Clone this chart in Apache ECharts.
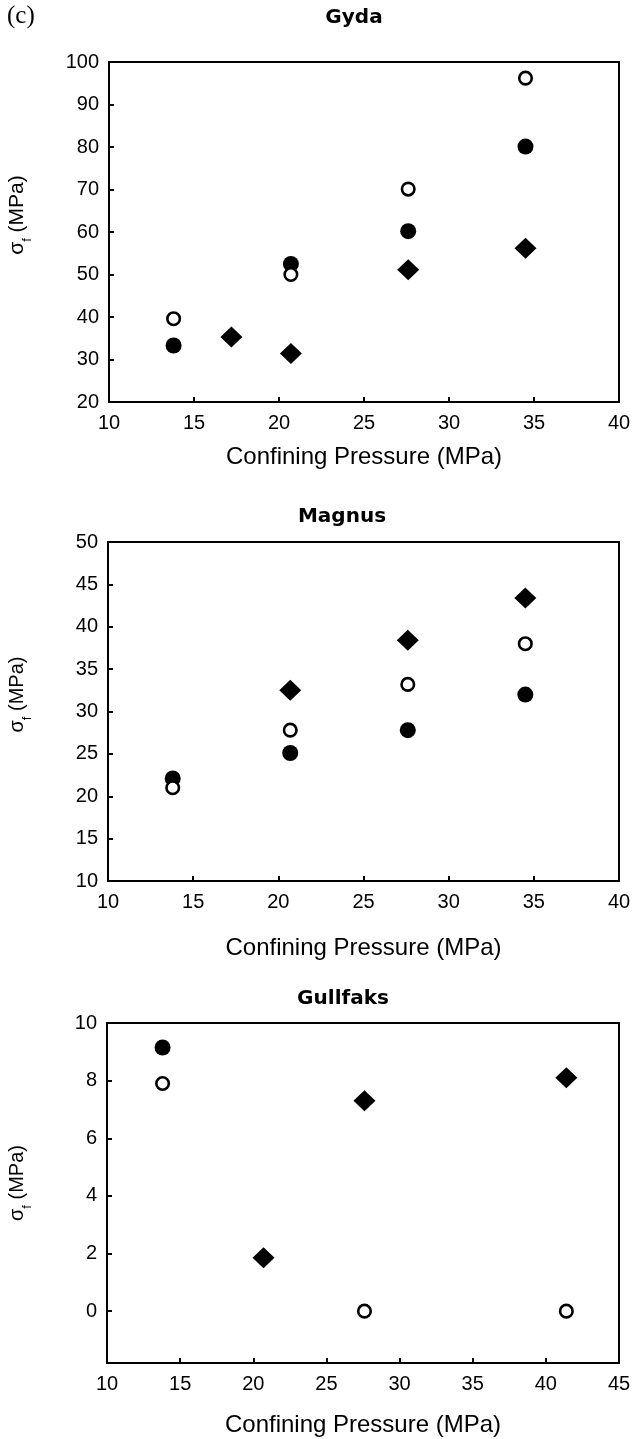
<!DOCTYPE html>
<html>
<head>
<meta charset="utf-8">
<script src="https://cdn.jsdelivr.net/npm/echarts@6/dist/echarts.min.js"></script>
<style>
  html, body { margin: 0; padding: 0; background: #fff; }
  #chart { width: 632px; height: 1439px; }
</style>
</head>
<body>
<div id="chart"></div>
<script>
// Peak strength vs confining pressure for three fields
const pressureAll = [13.8, 20.7, 27.6, 34.5];

const gydaOpen = [39.6, 50.0, 70.1, 96.2];
const gydaFilled = [33.3, 52.5, 60.2, 80.1];
const gydaDiamondX = [17.2, 20.7, 27.6, 34.5];
const gydaDiamond = [35.3, 31.4, 51.1, 56.2];

const magnusOpen = [21.0, 27.8, 33.2, 38.0];
const magnusFilled = [22.1, 25.1, 27.8, 32.0];
const magnusDiamondX = [20.7, 27.6, 34.5];
const magnusDiamond = [32.5, 38.4, 43.4];

const gullfaksOpenX = [13.8, 27.6, 41.4];
const gullfaksOpen = [7.9, 0, 0];
const gullfaksFilledX = [13.8];
const gullfaksFilled = [9.15];
const gullfaksDiamondX = [20.7, 27.6, 41.4];
const gullfaksDiamond = [1.85, 7.3, 8.1];

const gullfaksTicks = [0, 2, 4, 6, 8, 10];

const titles = ['Gyda', 'Magnus', 'Gullfaks'];
const xName = 'Confining Pressure (MPa)';

const SANS = '"Liberation Sans", Arial, Helvetica, sans-serif';
const zip = (xs, ys) => xs.map((x, i) => [x, ys[i]]);

const chart = echarts.init(document.getElementById('chart'), null, { renderer: 'canvas' });

const grids = [
  { left: 109, width: 510, top: 62, height: 340 },
  { left: 108, width: 511, top: 542, height: 339 },
  { left: 107, width: 512, top: 1023, height: 340 }
].map(g => Object.assign({
  show: true, borderColor: '#000', borderWidth: 2, backgroundColor: 'transparent',
  containLabel: false, outerBoundsMode: 'none'
}, g));

function xAxis(idx, max, gap) {
  return {
    type: 'value', gridIndex: idx, min: 10, max: max, interval: 5,
    name: xName, nameLocation: 'middle', nameGap: gap,
    nameTextStyle: { fontFamily: SANS, fontSize: 24, color: '#000' },
    axisLine: { show: true, onZero: false, lineStyle: { color: '#000', width: 2 } },
    axisTick: { show: true, inside: true, length: 5, lineStyle: { color: '#000', width: 2 } },
    axisLabel: { fontFamily: SANS, fontSize: 20, color: '#000', margin: 11, showMinLabel: true, showMaxLabel: true },
    splitLine: { show: false }
  };
}

function yName(size, shift) {
  return {
    name: '{a|σ}{b|f}{a| (MPa)}',
    nameLocation: 'middle',
    nameTextStyle: {
      padding: [0, 0, 0, shift],
      rich: {
        a: { fontFamily: SANS, fontSize: size, color: '#000', lineHeight: 24, verticalAlign: 'top' },
        b: { fontFamily: SANS, fontSize: 13, color: '#000', lineHeight: 40 }
      }
    }
  };
}

function yAxis(idx, min, max, interval, size, gap, shift) {
  return Object.assign({
    type: 'value', gridIndex: idx, min: min, max: max, interval: interval,
    nameGap: gap,
    axisLine: { show: true, onZero: false, lineStyle: { color: '#000', width: 2 } },
    axisTick: { show: true, inside: true, length: 5, lineStyle: { color: '#000', width: 2 } },
    axisLabel: { fontFamily: SANS, fontSize: 20, color: '#000', margin: 10, showMinLabel: true, showMaxLabel: true },
    splitLine: { show: false }
  }, yName(size, shift));
}

const y3 = yAxis(2, -1.8, 10, 2, 20, 60, 20);
y3.axisTick.customValues = gullfaksTicks;
y3.axisLabel.customValues = gullfaksTicks;
delete y3.interval;

function filled(idx, data) {
  return { type: 'scatter', xAxisIndex: idx, yAxisIndex: idx, data: data, symbol: 'circle', symbolSize: 16,
    itemStyle: { color: '#000', opacity: 1 }, silent: true, z: 2 };
}
function diamond(idx, data) {
  return { type: 'scatter', xAxisIndex: idx, yAxisIndex: idx, data: data, symbol: 'diamond', symbolSize: [22, 21],
    itemStyle: { color: '#000', opacity: 1 }, silent: true, z: 3 };
}
function open(idx, data) {
  return { type: 'scatter', xAxisIndex: idx, yAxisIndex: idx, data: data, symbol: 'circle', symbolSize: 12.5,
    itemStyle: { color: '#fff', borderColor: '#000', borderWidth: 2.6, opacity: 1 }, silent: true, z: 4 };
}

const titleStyle = { fontFamily: '"DejaVu Sans", sans-serif', fontSize: 20, fontWeight: 'bold', color: '#000' };

chart.setOption({
  animation: false,
  backgroundColor: '#fff',
  title: [
    { text: '(c)', left: 7, top: 4, padding: 0, textStyle: { fontFamily: '"Liberation Serif", "Times New Roman", serif', fontSize: 25, fontWeight: 'normal', color: '#000' } },
    { text: titles[0], left: 354, textAlign: 'center', top: 8, padding: 0, textStyle: titleStyle },
    { text: titles[1], left: 342, textAlign: 'center', top: 507, padding: 0, textStyle: titleStyle },
    { text: titles[2], left: 343, textAlign: 'center', top: 989, padding: 0, textStyle: titleStyle }
  ],
  grid: grids,
  xAxis: [xAxis(0, 40, 43), xAxis(1, 40, 55), xAxis(2, 45, 50)],
  yAxis: [yAxis(0, 20, 100, 10, 21, 62, 34), yAxis(1, 10, 50, 5, 20, 61, 34), y3],
  series: [
    filled(0, zip(pressureAll, gydaFilled)),
    diamond(0, zip(gydaDiamondX, gydaDiamond)),
    open(0, zip(pressureAll, gydaOpen)),
    filled(1, zip(pressureAll, magnusFilled)),
    diamond(1, zip(magnusDiamondX, magnusDiamond)),
    open(1, zip(pressureAll, magnusOpen)),
    filled(2, zip(gullfaksFilledX, gullfaksFilled)),
    diamond(2, zip(gullfaksDiamondX, gullfaksDiamond)),
    open(2, zip(gullfaksOpenX, gullfaksOpen))
  ]
});
</script>
</body>
</html>
